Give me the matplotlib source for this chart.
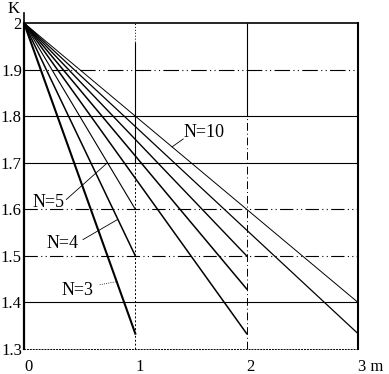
import matplotlib
matplotlib.use("Agg")
import matplotlib.pyplot as plt

plt.rcParams['font.family'] = ['Liberation Serif', 'DejaVu Serif']

# --- data ---
N_values = [3, 4, 5, 6, 7, 8, 9, 10]
m_start = [0, 0, 0, 0, 0, 0, 0, 0]
K_start = [2.0, 2.0, 2.0, 2.0, 2.0, 2.0, 2.0, 2.0]
m_end = [1, 1, 1, 2, 2, 2, 3, 3]
K_end = [1.333, 1.5, 1.6, 1.333, 1.429, 1.5, 1.333, 1.4]
line_widths = [1.5, 1.1, 0.8, 1.1, 1.1, 1.0, 0.9, 0.7]

x_ticks = [0, 1, 2, 3]
x_tick_labels = ["0", "1", "2", "3 m"]
y_ticks = [1.3, 1.4, 1.5, 1.6, 1.7, 1.8, 1.9, 2.0]
y_tick_labels = ["1.3", "1.4", "1.5", "1.6", "1.7", "1.8", "1.9", "2"]

# label text, text position, leader start, leader end
labels = ["N=10", "N=5", "N=4", "N=3"]
label_pos = [(1.43, 1.764), (0.08, 1.614), (0.20, 1.527), (0.34, 1.425)]
leader_from = [(1.43, 1.751), (0.38, 1.621), (0.53, 1.535), (0.68, 1.438)]
leader_to = [(1.33, 1.734), (0.75, 1.700), (0.84, 1.578), (0.84, 1.445)]
leader_styles = ["-", "-", "-", ":"]

fig = plt.figure(figsize=(3.89, 3.74), dpi=100)
ax = fig.add_axes([24 / 389, 25 / 374, 334 / 389, 326 / 374])
ax.set_xlim(0, 3)
ax.set_ylim(1.3, 2.0)

# --- grid ---
h_grid = [1.4, 1.5, 1.6, 1.7, 1.8, 1.9]
h_style = ["-", (0, (12, 3, 1, 3, 1, 3)), (0, (12, 3, 1, 3, 1, 3)), "-", "-",
           (0, (14, 3, 1, 3, 1, 3))]
for y, ls in zip(h_grid, h_style):
    ax.axhline(y, color="black", lw=0.8, ls=ls, zorder=1)

ax.vlines(1, 1.70, 1.96, color="black", lw=0.8, zorder=1)
ax.vlines(1, 1.3, 1.70, color="black", lw=0.7, ls=(0, (2, 2)), zorder=1)
ax.vlines(1, 1.96, 2.0, color="black", lw=0.7, ls=(0, (1, 2)), zorder=1)
ax.vlines(2, 1.80, 2.0, color="black", lw=0.8, zorder=1)
ax.vlines(2, 1.3, 1.80, color="black", lw=0.7, ls=(0, (8, 3, 1, 3)), zorder=1)

# --- curves ---
for x0, y0, x1, y1, lw in zip(m_start, K_start, m_end, K_end, line_widths):
    ax.plot([x0, x1], [y0, y1], color="black", lw=lw, zorder=3)

# --- labels with leader lines ---
for txt, pos, p0, p1, ls in zip(labels, label_pos, leader_from, leader_to, leader_styles):
    ax.text(pos[0], pos[1], txt, fontsize=13, ha="left", va="center", zorder=4)
    ax.plot([p0[0], p1[0]], [p0[1], p1[1]], color="black", lw=0.6, ls=ls, zorder=4)

# --- axes ---
for side in ["left", "right", "top"]:
    ax.spines[side].set_color("black")
ax.spines["left"].set_linewidth(1.6)
ax.spines["right"].set_linewidth(1.5)
ax.spines["top"].set_linewidth(1.2)
ax.spines["bottom"].set_linewidth(0.7)
ax.spines["bottom"].set_linestyle((0, (1, 2)))
ax.plot([0, 0], [2.0, 2.022], color="black", lw=1.2, clip_on=False)

ax.set_xticks(x_ticks)
ax.set_xticklabels(x_tick_labels)
ax.set_yticks(y_ticks)
ax.set_yticklabels(y_tick_labels)
ax.tick_params(axis="x", length=0, pad=7, labelsize=12)
ax.tick_params(axis="y", length=0, pad=1.5, labelsize=12)
for lab in ax.get_xticklabels():
    lab.set_ha("left")

ax.text(-0.144, 2.030, "K", fontsize=12, ha="left", va="center", clip_on=False)

plt.savefig("out.png", dpi=100)
plt.close()
